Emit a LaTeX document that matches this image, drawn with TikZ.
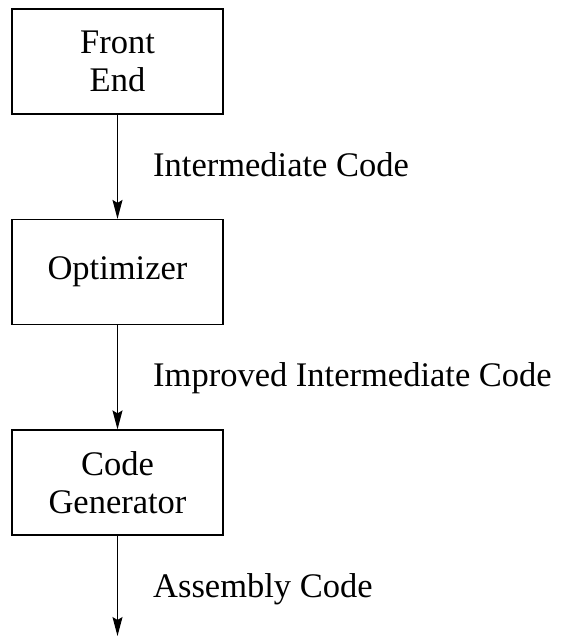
\documentclass[tikz,border=0pt]{standalone}
\usepackage{fontspec}
\setmainfont{Liberation Serif}
\newfontfamily\timesfam{Liberation Serif}
\usetikzlibrary{arrows.meta}
\begin{document}
\begin{tikzpicture}[x=1pt,y=-1pt,
  stage/.style={draw, line width=1.2pt, minimum width=211pt, minimum height=105pt,
    inner sep=0pt, align=center,
    font=\timesfam\fontsize{34.5}{38}\selectfont},
  flowlabel/.style={anchor=base west, inner sep=0pt, font=\timesfam\fontsize{34.5}{38}\selectfont},
  flow/.style={line width=1.1pt, -{Stealth[length=19pt,width=10pt,inset=3pt]}}]
  \useasboundingbox (0,0) rectangle (561,637);
  \node[stage] (fe) at (117.5,61.5) {Front\\End};
  \node[stage] (opt) at (117.5,272) {Optimizer};
  \node[stage] (cg) at (117.5,482.5) {Code\\Generator};
  \coordinate (out) at (117.5,636);
  \draw[flow] (fe) -- (opt);
  \draw[flow] (opt) -- (cg);
  \draw[flow] (cg) -- (out);
  \node[flowlabel] (l1) at (153,176) {Intermediate Code};
  \node[flowlabel] (l2) at (153,386) {Improved Intermediate Code};
  \node[flowlabel] (l3) at (153,597) {Assembly Code};
\end{tikzpicture}
\end{document}
